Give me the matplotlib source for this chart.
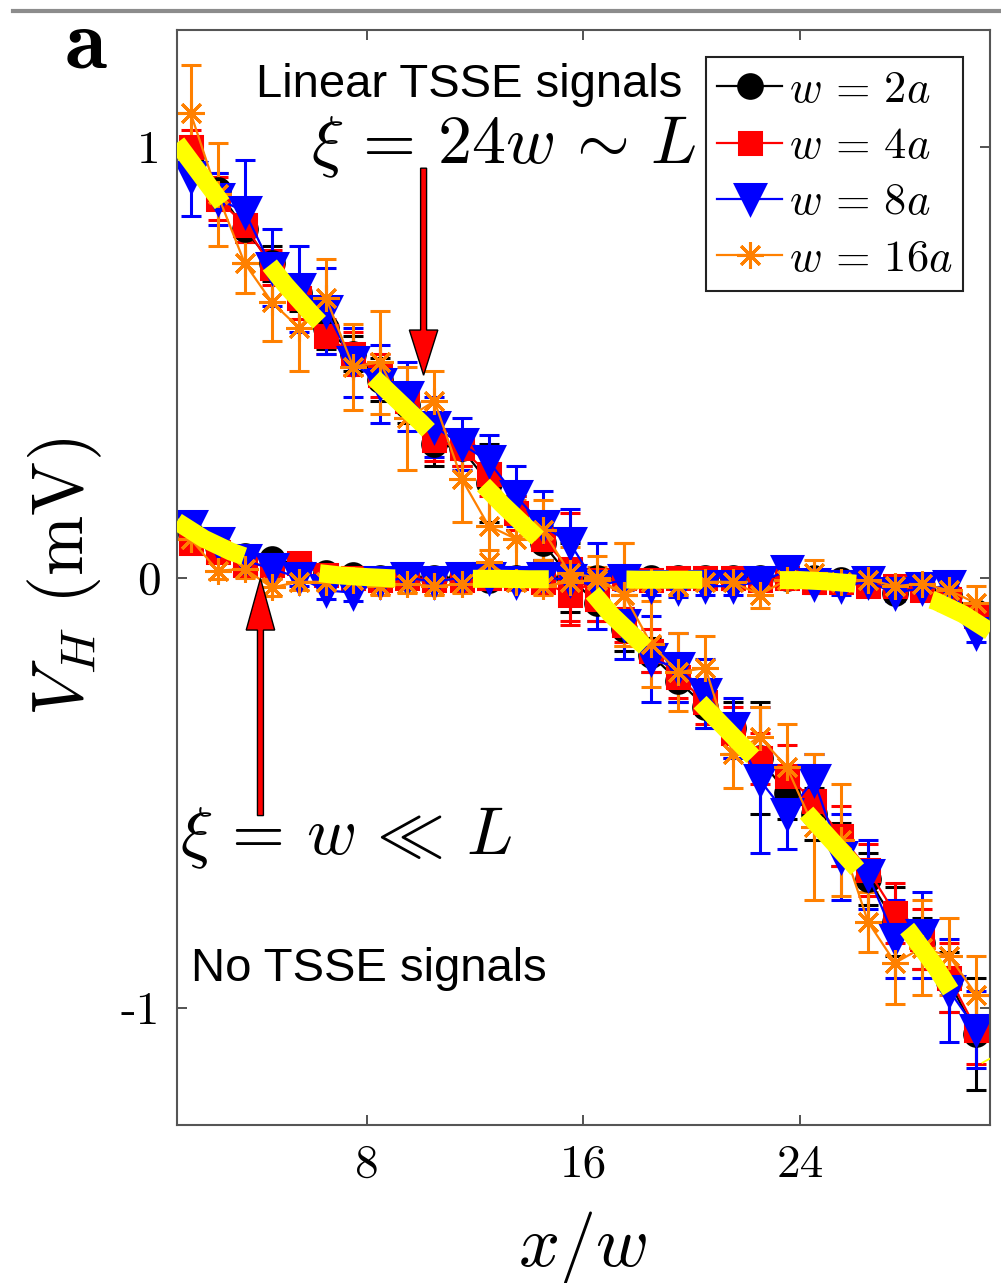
import matplotlib
matplotlib.use("Agg")
import matplotlib.pyplot as plt
from matplotlib.lines import Line2D

plt.rcParams['mathtext.fontset'] = 'cm'

# positions along the sample (x/w), one point per cell
x_pts = [1.5, 2.5, 3.5, 4.5, 5.5, 6.5, 7.5, 8.5, 9.5, 10.5,
         11.5, 12.5, 13.5, 14.5, 15.5, 16.5, 17.5, 18.5, 19.5, 20.5,
         21.5, 22.5, 23.5, 24.5, 25.5, 26.5, 27.5, 28.5, 29.5, 30.5]

# linear TSSE branch (xi = 24w)
black_up = [0.98, 0.90, 0.81, 0.73, 0.66, 0.58, 0.52, 0.46, 0.40, 0.31,
            0.30, 0.22, 0.15, 0.08, 0.00, -0.06, -0.12, -0.18, -0.24, -0.30,
            -0.35, -0.42, -0.50, -0.55, -0.62, -0.70, -0.80, -0.85, -0.94, -1.06]
black_up_err = [0.04, 0.04, 0.03, 0.04, 0.04, 0.05, 0.04, 0.05, 0.04, 0.05,
                0.04, 0.09, 0.04, 0.04, 0.08, 0.04, 0.05, 0.04, 0.05, 0.05,
                0.06, 0.13, 0.06, 0.06, 0.05, 0.06, 0.08, 0.06, 0.07, 0.13]
red_up = [1.00, 0.88, 0.82, 0.72, 0.65, 0.56, 0.52, 0.47, 0.41, 0.32,
          0.30, 0.24, 0.15, 0.09, 0.02, -0.05, -0.11, -0.17, -0.23, -0.29,
          -0.36, -0.42, -0.46, -0.52, -0.60, -0.68, -0.78, -0.84, -0.93, -1.05]
red_up_err = [0.04, 0.05, 0.04, 0.04, 0.05, 0.04, 0.05, 0.05, 0.04, 0.05,
              0.04, 0.05, 0.04, 0.05, 0.13, 0.05, 0.04, 0.05, 0.05, 0.05,
              0.06, 0.06, 0.07, 0.06, 0.07, 0.06, 0.07, 0.07, 0.08, 0.08]
blue_up = [0.93, 0.88, 0.85, 0.72, 0.67, 0.62, 0.50, 0.45, 0.42, 0.35,
           0.31, 0.27, 0.19, 0.12, 0.08, -0.02, -0.11, -0.19, -0.21, -0.27,
           -0.35, -0.47, -0.55, -0.47, -0.65, -0.69, -0.84, -0.83, -0.96, -1.05]
blue_up_err = [0.09, 0.06, 0.12, 0.09, 0.10, 0.10, 0.08, 0.09, 0.08, 0.07,
               0.06, 0.06, 0.07, 0.08, 0.08, 0.10, 0.08, 0.10, 0.08, 0.08,
               0.07, 0.17, 0.08, 0.06, 0.10, 0.08, 0.09, 0.10, 0.12, 0.09]
orange_up = [1.08, 0.89, 0.73, 0.64, 0.58, 0.65, 0.49, 0.50, 0.37, 0.41,
             0.23, 0.12, 0.09, 0.11, 0.01, 0.00, -0.04, -0.155, -0.22, -0.21,
             -0.41, -0.37, -0.44, -0.58, -0.61, -0.80, -0.895, -0.86, -0.88, -0.97]
orange_up_err = [0.11, 0.12, 0.07, 0.09, 0.10, 0.09, 0.10, 0.12, 0.12, 0.07,
                 0.10, 0.12, 0.09, 0.07, 0.06, 0.05, 0.12, 0.10, 0.09, 0.075,
                 0.08, 0.07, 0.10, 0.17, 0.13, 0.07, 0.095, 0.11, 0.09, 0.09]

# localized branch (xi = w)
black_lo = [0.10, 0.07, 0.05, 0.044, 0.03, 0.01, 0.005, 0.00, 0.00, 0.00,
            0.00, -0.005, 0.00, 0.00, 0.00, 0.00, 0.00, 0.00, 0.00, 0.00,
            0.00, 0.00, 0.00, 0.00, -0.005, -0.007, -0.037, -0.02, -0.04, -0.08]
red_lo = [0.08, 0.06, 0.03, 0.03, 0.033, 0.005, 0.00, -0.005, 0.00, -0.005,
          -0.005, 0.00, 0.00, -0.01, -0.04, -0.005, 0.00, -0.005, 0.00, 0.00,
          0.00, -0.005, 0.00, -0.01, -0.01, -0.02, -0.02, -0.03, -0.05, -0.09]
blue_lo = [0.12, 0.08, 0.04, 0.02, 0.00, -0.03, -0.035, -0.01, 0.00, -0.01,
           0.00, 0.00, -0.01, 0.00, -0.005, -0.02, -0.005, -0.02, -0.025, -0.02,
           -0.02, -0.01, 0.015, -0.015, -0.02, -0.01, -0.035, -0.025, -0.02, -0.13]
orange_lo = [0.09, 0.016, 0.02, -0.023, -0.01, -0.01, -0.005, -0.02, -0.015, -0.02,
             -0.015, 0.035, -0.01, -0.02, -0.01, -0.005, -0.04, -0.01, -0.02, -0.01,
             -0.01, -0.04, -0.005, 0.01, -0.01, -0.005, -0.02, -0.014, -0.03, -0.06]
black_lo_err = [0.015] * 30
red_lo_err = [0.015, 0.015, 0.015, 0.015, 0.015, 0.015, 0.015, 0.015, 0.015, 0.015,
              0.015, 0.015, 0.015, 0.015, 0.06, 0.015, 0.015, 0.015, 0.015, 0.015,
              0.015, 0.015, 0.015, 0.015, 0.015, 0.015, 0.015, 0.015, 0.02, 0.02]
blue_lo_err = [0.02] * 30
orange_lo_err = [0.02, 0.02, 0.02, 0.02, 0.02, 0.02, 0.02, 0.02, 0.02, 0.02,
                 0.02, 0.03, 0.02, 0.02, 0.03, 0.03, 0.12, 0.02, 0.02, 0.02,
                 0.02, 0.03, 0.02, 0.03, 0.02, 0.02, 0.02, 0.02, 0.03, 0.04]

# fitted curves
x_fit = list(range(1, 32))
fit_up = [1.01, 0.925, 0.84, 0.76, 0.68, 0.61, 0.545, 0.48, 0.42, 0.36,
          0.295, 0.235, 0.17, 0.11, 0.05, -0.01, -0.085, -0.145, -0.205, -0.27,
          -0.335, -0.40, -0.465, -0.53, -0.60, -0.67, -0.745, -0.82, -0.905, -1.005, -1.12]
fit_lo = [0.13, 0.09, 0.06, 0.038, 0.022, 0.012, 0.005, 0.001, -0.002, -0.002,
          -0.003, -0.003, -0.003, -0.004, -0.004, -0.004, -0.004, -0.005, -0.005, -0.005,
          -0.005, -0.006, -0.006, -0.006, -0.009, -0.014, -0.022, -0.035, -0.055, -0.085, -0.125]

labels = [r'$w\,=\,2a$', r'$w\,=\,4a$', r'$w\,=\,8a$', r'$w\,=\,16a$']
colors = ['black', 'red', 'blue', '#ff8000']
markers = ['o', 's', 'v', (8, 2, 0)]
msizes = [17, 16, 21, 19]

series = [
    (black_up, black_up_err, black_lo, black_lo_err),
    (red_up, red_up_err, red_lo, red_lo_err),
    (blue_up, blue_up_err, blue_lo, blue_lo_err),
    (orange_up, orange_up_err, orange_lo, orange_lo_err),
]

fig = plt.figure(figsize=(10.01, 12.83), dpi=100)
ax = fig.add_axes([0.1768, 0.1231, 0.8122, 0.8535])

handles = []
for (up, up_e, lo, lo_e), c, m, ms in zip(series, colors, markers, msizes):
    for y, e in ((up, up_e), (lo, lo_e)):
        eb = ax.errorbar(x_pts, y, yerr=e, color=c, marker=m, ms=ms,
                         mfc=c, mec=c, mew=2.2, lw=1.6, elinewidth=2.2,
                         capsize=7, capthick=2.2)
    handles.append(eb.lines[0])

ax.plot(x_fit, fit_up, color='#ffff00', lw=13, ls=(0, (4.2, 4.3)), zorder=5)
ax.plot(x_fit, fit_lo, color='#ffff00', lw=13, ls=(0, (4.2, 4.3)), zorder=5)

# arrows pointing at the two branches
ax.arrow(10.1, 0.951, 0, -0.481, width=0.22, head_width=1.05, head_length=0.105,
         length_includes_head=True, fc='red', ec='black', lw=1, zorder=10)
ax.arrow(4.08, -0.553, 0, 0.551, width=0.22, head_width=1.05, head_length=0.12,
         length_includes_head=True, fc='red', ec='black', lw=1, zorder=10)

ax.text(3.9, 1.116, 'Linear TSSE signals', fontsize=34,
        family='Liberation Sans', va='baseline', zorder=11)
ax.text(5.93, 0.963, r'$\xi\,=\,24w\,\sim\,L$', fontsize=49, va='baseline', zorder=11)
ax.text(1.13, -0.642, r'$\xi\,=\,w\,\ll\,L$', fontsize=49, va='baseline', zorder=11)
ax.text(1.5, -0.937, 'No TSSE signals', fontsize=34,
        family='Liberation Sans', va='baseline', zorder=11)

ax.set_xlim(1, 31)
ax.set_ylim(-1.272, 1.272)
ax.set_xticks([8, 16, 24])
ax.set_xticklabels(['8', '16', '24'], fontfamily='cmr10', fontsize=34)
ax.set_yticks([-1, 0, 1])
ax.set_yticklabels(['-1', '0', '1'], fontfamily='cmr10', fontsize=34)
ax.tick_params(direction='in', top=True, right=True, length=7, width=1.3,
               color='#444444')
ax.tick_params(axis='x', pad=14)
ax.tick_params(axis='y', pad=12)
for sp in ax.spines.values():
    sp.set_color('#555555')
    sp.set_linewidth(1.5)

leg = ax.legend(handles, labels, loc='upper right', fontsize=32,
                handlelength=1.45, handletextpad=0.15, labelspacing=0.3,
                borderpad=0.25, borderaxespad=0.6, fancybox=False,
                framealpha=1, edgecolor='#222222')
leg.get_frame().set_linewidth(1.5)

fig.text(65 / 1001, 1 - 577 / 1283, r'$V_H$ (mV)', rotation=90, ha='center',
         va='center', fontsize=52, fontfamily='cmr10')
fig.text(583 / 1001, 1 - 1247 / 1283, r'$x/w$', ha='center', va='center',
         fontsize=52)
fig.text(86 / 1001, 1 - 46 / 1283, 'a', ha='center', va='center',
         fontsize=62, fontfamily='cmb10')

fig.add_artist(Line2D([0.013, 1.0], [1 - 11 / 1283] * 2, color='#8c8c8c', lw=3))

fig.savefig('out.png', dpi=100)
